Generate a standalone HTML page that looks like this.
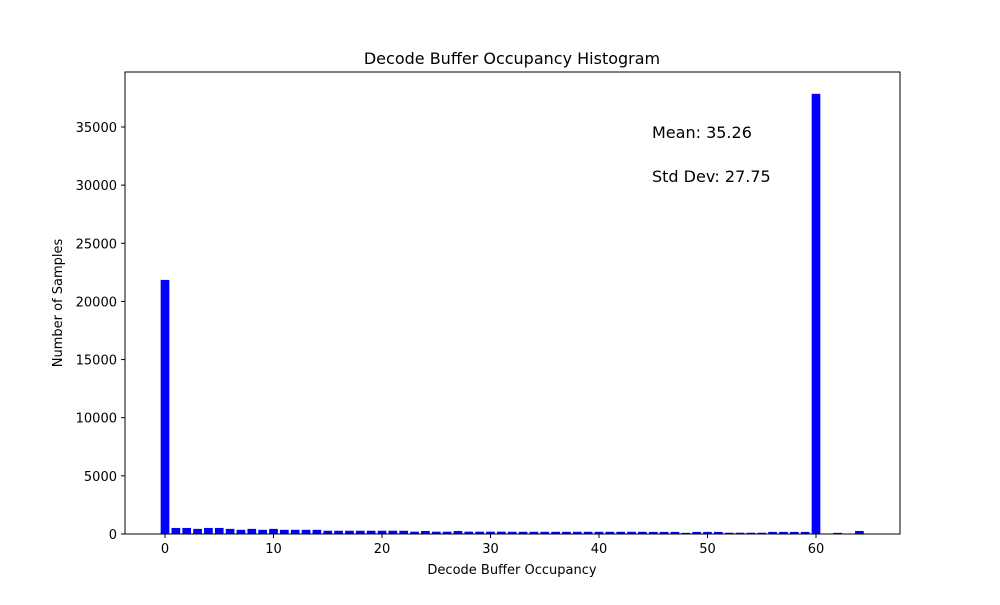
<!DOCTYPE html>
<html><head><meta charset="utf-8"><style>
body{margin:0;background:#fff;font-family:"Liberation Sans","DejaVu Sans",sans-serif;}
</style></head><body>
<svg id="chart" width="1000" height="600" xmlns="http://www.w3.org/2000/svg" font-family="DejaVu Sans, Liberation Sans, sans-serif">
<rect width="1000" height="600" fill="#fff"/>
<text x="512" y="64" text-anchor="middle" font-size="16">Decode Buffer Occupancy Histogram</text>
<g id="bars"></g>
<rect x="125" y="72" width="775" height="462" fill="none" stroke="#000" stroke-width="1"/>
<g id="axes"></g>
<text x="512" y="574" text-anchor="middle" font-size="13">Decode Buffer Occupancy</text>
<text transform="translate(62,303) rotate(-90)" text-anchor="middle" font-size="13">Number of Samples</text>
<text x="652" y="138" font-size="16">Mean: 35.26</text>
<text x="652" y="182" font-size="16">Std Dev: 27.75</text>
</svg>
<script>
const categories=[];for(let i=0;i<=64;i++)categories.push(i);
const counts=[21850,520,520,440,520,520,440,360,440,360,440,360,360,360,360,280,280,280,280,280,280,280,280,200,260,200,200,260,200,200,200,200,190,190,190,190,190,190,190,190,190,190,190,190,190,180,180,180,100,180,180,180,110,110,110,110,180,180,180,180,37850,0,100,0,260];
const xTicks=[0,10,20,30,40,50,60];
const yTicks=[0,5000,10000,15000,20000,25000,30000,35000];
const NS="http://www.w3.org/2000/svg";
const x=v=>165+(v)*10.85;
const y=v=>534-v*0.011629;
const bars=document.getElementById('bars'),axes=document.getElementById('axes');
categories.forEach((c,i)=>{
  if(!counts[i])return;
  const r=document.createElementNS(NS,'rect');
  
  
  r.setAttribute('x',x(c-0.4));r.setAttribute('width',0.8*10.85);
  r.setAttribute('y',y(counts[i]));r.setAttribute('height',534-y(counts[i]));
  r.setAttribute('fill','#0000ff');bars.appendChild(r);
});
xTicks.forEach(t=>{
  const l=document.createElementNS(NS,'line');
  
  
  l.setAttribute('x1',x(t));l.setAttribute('x2',x(t));l.setAttribute('y1',534);l.setAttribute('y2',538);l.setAttribute('stroke','#000');axes.appendChild(l);
  const tx=document.createElementNS(NS,'text');
  
  
  tx.setAttribute('x',x(t));tx.setAttribute('y',553);tx.setAttribute('text-anchor','middle');tx.setAttribute('font-size','13');tx.textContent=t;axes.appendChild(tx);
});
yTicks.forEach(t=>{
  const l=document.createElementNS(NS,'line');
  
  
  l.setAttribute('x1',121);l.setAttribute('x2',125);l.setAttribute('y1',y(t));l.setAttribute('y2',y(t));l.setAttribute('stroke','#000');axes.appendChild(l);
  const tx=document.createElementNS(NS,'text');
  
  
  tx.setAttribute('x',117);tx.setAttribute('y',y(t)+5);tx.setAttribute('text-anchor','end');tx.setAttribute('font-size','13');tx.textContent=t;axes.appendChild(tx);
});
</script>
</body></html>
